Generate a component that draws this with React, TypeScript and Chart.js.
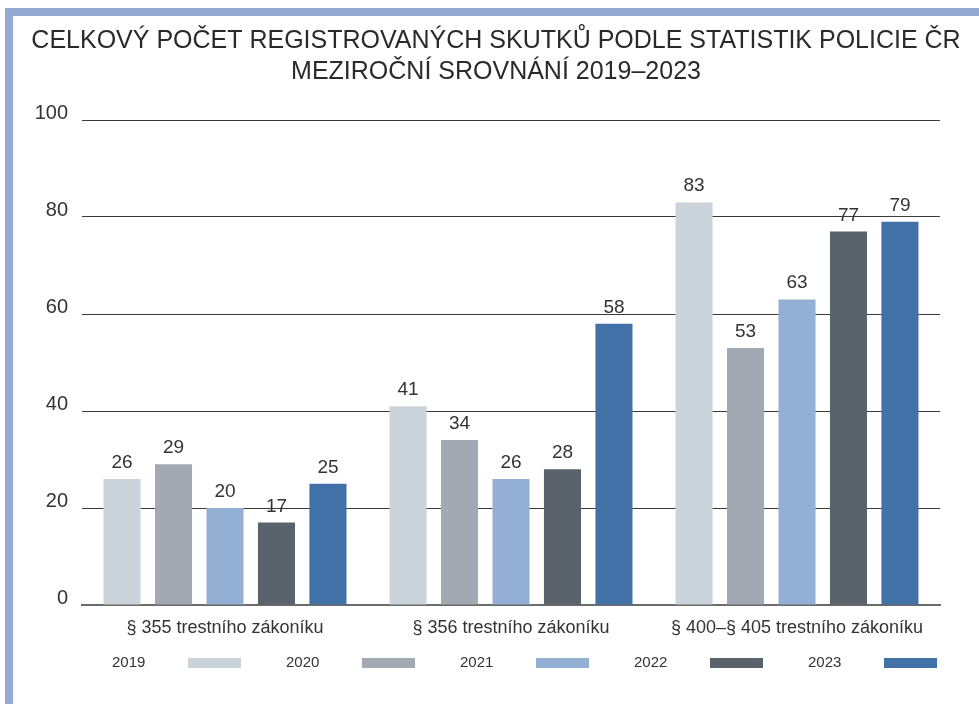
import React, { useEffect, useRef } from "react";
import { Chart, registerables } from "chart.js";

Chart.register(...registerables);

const titleLines = [
  "CELKOVÝ POČET REGISTROVANÝCH SKUTKŮ PODLE STATISTIK POLICIE ČR",
  "MEZIROČNÍ SROVNÁNÍ 2019–2023",
];
const categories = [
  "§ 355 trestního zákoníku",
  "§ 356 trestního zákoníku",
  "§ 400–§ 405 trestního zákoníku",
];
const years = ["2019", "2020", "2021", "2022", "2023"];
const v2019 = [26, 41, 83];
const v2020 = [29, 34, 53];
const v2021 = [20, 26, 63];
const v2022 = [17, 28, 77];
const v2023 = [25, 58, 79];
const seriesValues = [v2019, v2020, v2021, v2022, v2023];
const colors = ["#cbd3da", "#a2a9b2", "#93afd4", "#5a626b", "#4271a7"];
const yTicks = [0, 20, 40, 60, 80, 100];

const FONT = "'Liberation Sans', Arial, Helvetica, sans-serif";

const overlayPlugin = {
  id: "overlay",
  afterDatasetsDraw(chart: any) {
    const ctx = chart.ctx;
    ctx.save();
    // value labels
    ctx.font = `19px ${FONT}`;
    ctx.fillStyle = "#333";
    ctx.textAlign = "center";
    ctx.textBaseline = "alphabetic";
    chart.data.datasets.forEach((ds: any, i: number) => {
      const meta = chart.getDatasetMeta(i);
      meta.data.forEach((bar: any, j: number) => {
        ctx.fillText(String(ds.data[j]), bar.x, bar.y - 11);
      });
    });
    // title
    ctx.font = `25px ${FONT}`;
    ctx.fillStyle = "#2a2a2a";
    ctx.fillText(titleLines[0], 496, 48);
    ctx.fillText(titleLines[1], 496, 79);
    // legend: text then swatch
    ctx.font = `15px ${FONT}`;
    ctx.textAlign = "left";
    ctx.textBaseline = "middle";
    chart.data.datasets.forEach((ds: any, i: number) => {
      const x = 112 + i * 174;
      ctx.fillStyle = "#333";
      ctx.fillText(ds.label, x, 663);
      ctx.fillStyle = ds.backgroundColor;
      ctx.fillRect(x + 76, 658, 53, 10);
    });
    ctx.restore();
  },
};

export default function App() {
  const ref = useRef<HTMLCanvasElement>(null);
  useEffect(() => {
    if (!ref.current) return;
    const chart = new Chart(ref.current, {
      type: "bar",
      data: {
        labels: categories,
        datasets: years.map((y, i) => ({
          label: y,
          data: seriesValues[i],
          backgroundColor: colors[i],
          categoryPercentage: 0.9,
          barPercentage: 0.72,
        })),
      },
      options: {
        animation: false,
        responsive: false,
        maintainAspectRatio: false,
        layout: { padding: { top: 120, right: 39, left: 0, bottom: 0 } },
        plugins: {
          legend: { display: false },
          title: { display: false },
          tooltip: { enabled: false },
        },
        scales: {
          x: {
            grid: { display: false },
            border: { display: true, color: "#6b6b6b", width: 2 },
            ticks: {
              color: "#333",
              font: { family: FONT, size: 18 },
              padding: 4,
              maxRotation: 0,
            },
            afterFit: (s: any) => {
              s.height = 99;
            },
          },
          y: {
            min: 0,
            max: 100,
            afterBuildTicks: (s: any) => {
              s.ticks = yTicks.map((v) => ({ value: v }));
            },
            grid: {
              drawTicks: false,
              color: (c: any) => (c.tick && c.tick.value === 0 ? "rgba(0,0,0,0)" : "#3a3a3a"),
              lineWidth: 1,
            },
            border: { display: false },
            ticks: {
              color: "#333",
              font: { family: FONT, size: 20 },
              padding: 14,
              labelOffset: -7,
            },
            afterFit: (s: any) => {
              s.width = 82;
            },
          },
        },
      },
      plugins: [overlayPlugin],
    });
    return () => chart.destroy();
  }, []);
  return (
    <div style={{ position: "fixed", left: 0, top: 0, width: 979, height: 704, background: "#fff" }}>
      <div style={{ position: "absolute", left: 5, top: 8, width: 974, height: 8, background: "#94aad0" }} />
      <div style={{ position: "absolute", left: 5, top: 8, width: 8, height: 696, background: "#94aad0" }} />
      <canvas
        ref={ref}
        width={979}
        height={704}
        style={{ position: "absolute", left: 0, top: 0, width: 979, height: 704 }}
      />
    </div>
  );
}
